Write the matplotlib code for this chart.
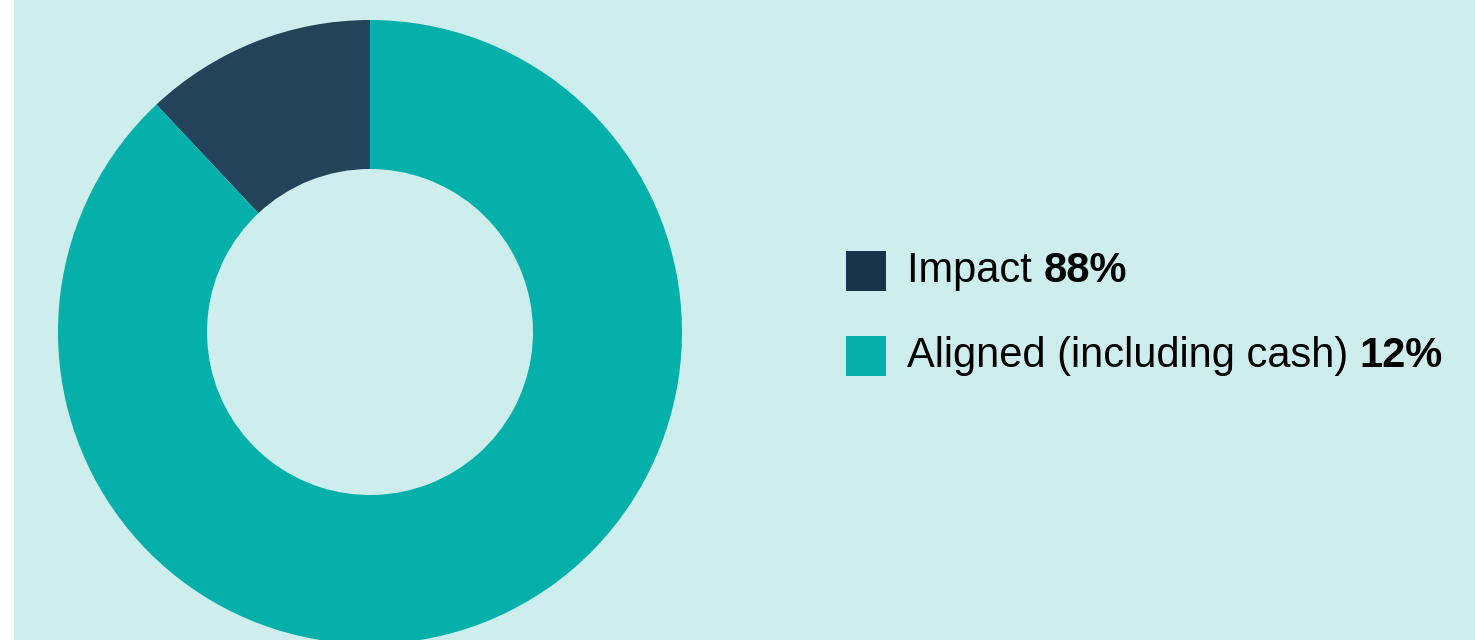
import matplotlib
matplotlib.use("Agg")
import matplotlib.pyplot as plt
from matplotlib.patches import Rectangle

# Data
legend_labels = ["Impact", "Aligned (including cash)"]
legend_values = ["88%", "12%"]
legend_colors = ["#16344A", "#05AFAA"]
slice_values = [12, 88]
slice_colors = ["#22435A", "#05AFAA"]

BG = "#CDEEEC"
W, H = 1475, 640

fig = plt.figure(figsize=(W / 100, H / 100), dpi=100)
fig.patch.set_facecolor("white")
ax = fig.add_axes([0, 0, 1, 1])
ax.set_facecolor("white")

cx, cy, r_out, r_in = 370, H - 332, 312, 163
ax.pie(slice_values, colors=slice_colors, startangle=90, counterclock=True,
       radius=r_out, center=(cx, cy),
       wedgeprops=dict(width=r_out - r_in, edgecolor="none", linewidth=0))
ax.add_patch(Rectangle((14, 0), W - 14, H, facecolor=BG, edgecolor="none", zorder=-10))
ax.set_xlim(0, W)
ax.set_ylim(0, H)
ax.set_aspect("equal")
ax.axis("off")

# Legend (manual)
fam = ["Liberation Sans", "DejaVu Sans"]
fs = 30
fig.canvas.draw()
renderer = fig.canvas.get_renderer()
baselines = [H - 282, H - 367]
for lab, val, col, yb in zip(legend_labels, legend_values, legend_colors, baselines):
    ax.add_patch(Rectangle((846, yb - 9), 40, 40, facecolor=col, edgecolor="none"))
    t = ax.text(907, yb, lab + " ", fontsize=fs, family=fam, va="baseline",
                ha="left", color="#000000")
    bb = t.get_window_extent(renderer=renderer)
    ax.text(bb.x1, yb, val, fontsize=fs, family=fam, fontweight="bold",
            va="baseline", ha="left", color="#000000")

fig.savefig("out.png", dpi=100, facecolor=fig.get_facecolor())
